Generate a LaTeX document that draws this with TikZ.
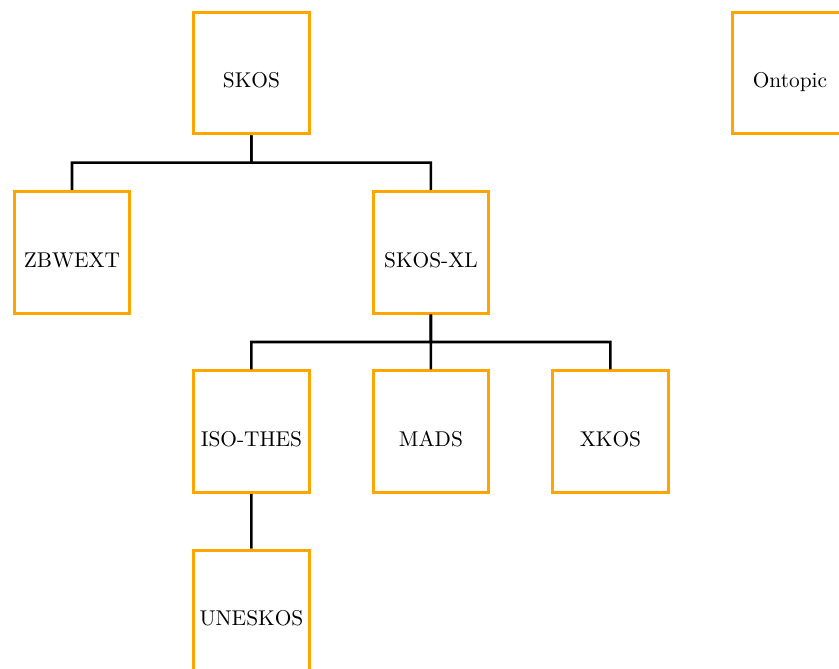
\documentclass[tikz,border=0pt]{standalone}
\usetikzlibrary{calc}
\definecolor{boxorange}{RGB}{255,165,0}
\begin{document}
\begin{tikzpicture}
        		\tikzstyle{vocab}=[rectangle,line width=1.4pt,draw=boxorange,minimum width=1.9cm,minimum height=2cm,inner sep=2pt,text height=14pt,text depth=0pt]
        		\tikzstyle{link}=[draw, line width=1.2pt, to path={(\tikztostart) -- ($(\tikztostart)!0.5!(\tikztostart |- \tikztotarget)$) -| (\tikztotarget)}]
        		\useasboundingbox (0,0) rectangle (13.78,-10.985);
       			\begin{scope}
        			\node [vocab] (skos) at (4.13,-1.199) {SKOS};
        			\node [vocab] (ontopic) at (12.974,-1.199) {Ontopic};
        			\node [vocab] (zbwext) at (1.182,-4.144) {ZBWEXT};
        			\node [vocab] (skosxl) at (7.078,-4.144) {SKOS-XL};
        			\node [vocab] (isothes) at (4.13,-7.089) {ISO-THES};
        			\node [vocab] (mads) at (7.078,-7.089) {MADS};
        			\node [vocab] (xkos) at (10.026,-7.089) {XKOS};
        			\node [vocab] (uneskos) at (4.13,-10.034) {UNESKOS};
        			\path[link] (skos.south) edge (zbwext.north);
        			\path[link] (skos.south) edge (skosxl.north);
        			\path[link] (skosxl.south) edge (isothes.north);
        			\path[link] (skosxl.south) edge (mads.north);
        			\path[link] (skosxl.south) edge (xkos.north);
        			\path[link] (isothes.south) edge (uneskos.north);
        		\end{scope}
      		\end{tikzpicture}
\end{document}
